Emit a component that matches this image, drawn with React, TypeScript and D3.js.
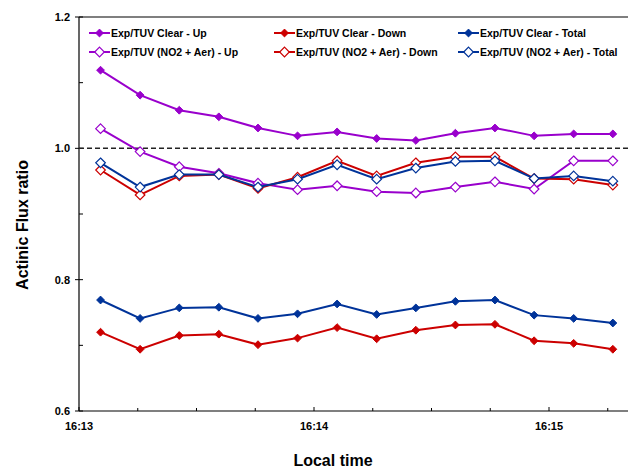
import React from "react";
import * as d3 from "d3";

// seconds after 16:13:00
const times = [5.5, 15.6, 25.6, 35.7, 45.7, 55.8, 65.9, 76.0, 86.0, 96.1, 106.2, 116.2, 126.3, 136.3];

const clearUp = [1.119, 1.081, 1.058, 1.048, 1.031, 1.019, 1.025, 1.015, 1.012, 1.023, 1.031, 1.019, 1.022, 1.022];
const clearDown = [0.72, 0.694, 0.715, 0.717, 0.701, 0.711, 0.727, 0.71, 0.723, 0.731, 0.732, 0.707, 0.703, 0.694];
const clearTotal = [0.769, 0.741, 0.757, 0.758, 0.741, 0.748, 0.763, 0.747, 0.757, 0.767, 0.769, 0.746, 0.741, 0.734];
const no2Up = [1.03, 0.995, 0.972, 0.962, 0.947, 0.937, 0.943, 0.934, 0.932, 0.941, 0.949, 0.938, 0.981, 0.981];
const no2Down = [0.967, 0.929, 0.958, 0.96, 0.939, 0.956, 0.981, 0.958, 0.978, 0.987, 0.987, 0.954, 0.953, 0.944];
const no2Total = [0.978, 0.941, 0.96, 0.96, 0.941, 0.953, 0.975, 0.953, 0.97, 0.98, 0.981, 0.954, 0.958, 0.95];

const xTickLabels = ["16:13", "16:14", "16:15"];
const xMajorTicks = [0, 60, 120];
const xMinorTicks = [15, 30, 45, 75, 90, 105, 135];
const yMajorTicks = [0.6, 0.8, 1.0, 1.2];
const yMinorTicks = [0.7, 0.9, 1.1];

const PURPLE = "#9900CC";
const RED = "#CC0000";
const BLUE = "#003399";

const series = [
  { name: "Exp/TUV Clear - Up", values: clearUp, color: PURPLE, hollow: false },
  { name: "Exp/TUV Clear - Down", values: clearDown, color: RED, hollow: false },
  { name: "Exp/TUV Clear - Total", values: clearTotal, color: BLUE, hollow: false },
  { name: "Exp/TUV (NO2 + Aer) - Up", values: no2Up, color: PURPLE, hollow: true },
  { name: "Exp/TUV (NO2 + Aer) - Down", values: no2Down, color: RED, hollow: true },
  { name: "Exp/TUV (NO2 + Aer) - Total", values: no2Total, color: BLUE, hollow: true },
];

const W = 628;
const H = 469;
const left = 79;
const top = 17;
const bottom = 411;
const right = 628;

const x = d3.scaleLinear().domain([0, 60]).range([left, 314]);
const y = d3.scaleLinear().domain([0.6, 1.2]).range([bottom, top]);

const font = "Arial, 'Liberation Sans', sans-serif";

function Marker({ cx, cy, color, hollow }: { cx: number; cy: number; color: string; hollow: boolean }) {
  const r = hollow ? 4.8 : 3.9;
  const d = `M${cx},${cy - r}L${cx + r},${cy}L${cx},${cy + r}L${cx - r},${cy}Z`;
  return hollow ? (
    <path d={d} fill="white" stroke={color} strokeWidth={1.2} />
  ) : (
    <path d={d} fill={color} stroke={color} strokeWidth={1} />
  );
}

export default function App() {
  const line = d3
    .line<number>()
    .x((_, i) => x(times[i]))
    .y((v) => y(v));

  const legendCols = [89, 274, 458];
  const legendRows = [33, 52];

  return (
    <svg
      width={W}
      height={H}
      style={{ position: "absolute", left: 0, top: 0, background: "white" }}
      fontFamily={font}
    >
      <rect x={0} y={0} width={W} height={H} fill="white" />
      {/* top border */}
      <line x1={left} x2={right} y1={top} y2={top} stroke="#000" strokeWidth={1.2} />
      {/* axes */}
      <line x1={left} x2={left} y1={top} y2={bottom} stroke="#000" strokeWidth={1.2} />
      <line x1={left} x2={right} y1={bottom} y2={bottom} stroke="#000" strokeWidth={1.2} />
      {yMajorTicks.map((t) => (
        <g key={"ym" + t}>
          <line x1={left - 4} x2={left + 4} y1={y(t)} y2={y(t)} stroke="#000" />
          <text x={70} y={y(t)} dy="0.35em" textAnchor="end" fontSize={11} fontWeight="bold">
            {t.toFixed(1)}
          </text>
        </g>
      ))}
      {yMinorTicks.map((t) => (
        <line key={"yn" + t} x1={left} x2={left + 4} y1={y(t)} y2={y(t)} stroke="#000" />
      ))}
      {xMajorTicks.map((t, i) => (
        <g key={"xm" + t}>
          <line x1={x(t)} x2={x(t)} y1={bottom - 4} y2={bottom} stroke="#000" />
          <text x={x(t)} y={426} dy="0.35em" textAnchor="middle" fontSize={11} fontWeight="bold">
            {xTickLabels[i]}
          </text>
        </g>
      ))}
      {xMinorTicks.map((t) => (
        <line key={"xn" + t} x1={x(t)} x2={x(t)} y1={bottom - 3} y2={bottom} stroke="#000" />
      ))}
      {/* reference line */}
      <line
        x1={left}
        x2={right}
        y1={y(1.0)}
        y2={y(1.0)}
        stroke="#222"
        strokeWidth={1.5}
        strokeDasharray="5,3"
      />
      {/* series */}
      {series.map((s) => (
        <g key={s.name}>
          <path d={line(s.values) || ""} fill="none" stroke={s.color} strokeWidth={2} />
          {s.values.map((v, i) => (
            <Marker key={i} cx={x(times[i])} cy={y(v)} color={s.color} hollow={s.hollow} />
          ))}
        </g>
      ))}
      {/* legend */}
      {series.map((s, i) => {
        const cx = legendCols[i % 3];
        const cy = legendRows[Math.floor(i / 3)];
        return (
          <g key={"lg" + s.name}>
            <line x1={cx} x2={cx + 21} y1={cy} y2={cy} stroke={s.color} strokeWidth={2} />
            <Marker cx={cx + 10.5} cy={cy} color={s.color} hollow={s.hollow} />
            <text x={cx + 22} y={cy} dy="0.35em" fontSize={10.5} fontWeight="bold">
              {s.name}
            </text>
          </g>
        );
      })}
      {/* axis titles */}
      <text x={333} y={460} dy="0.35em" textAnchor="middle" fontSize={16} fontWeight="bold">
        Local time
      </text>
      <text
        transform={`translate(22,225) rotate(-90)`}
        textAnchor="middle"
        dy="0.35em"
        fontSize={16}
        fontWeight="bold"
      >
        Actinic Flux ratio
      </text>
    </svg>
  );
}
